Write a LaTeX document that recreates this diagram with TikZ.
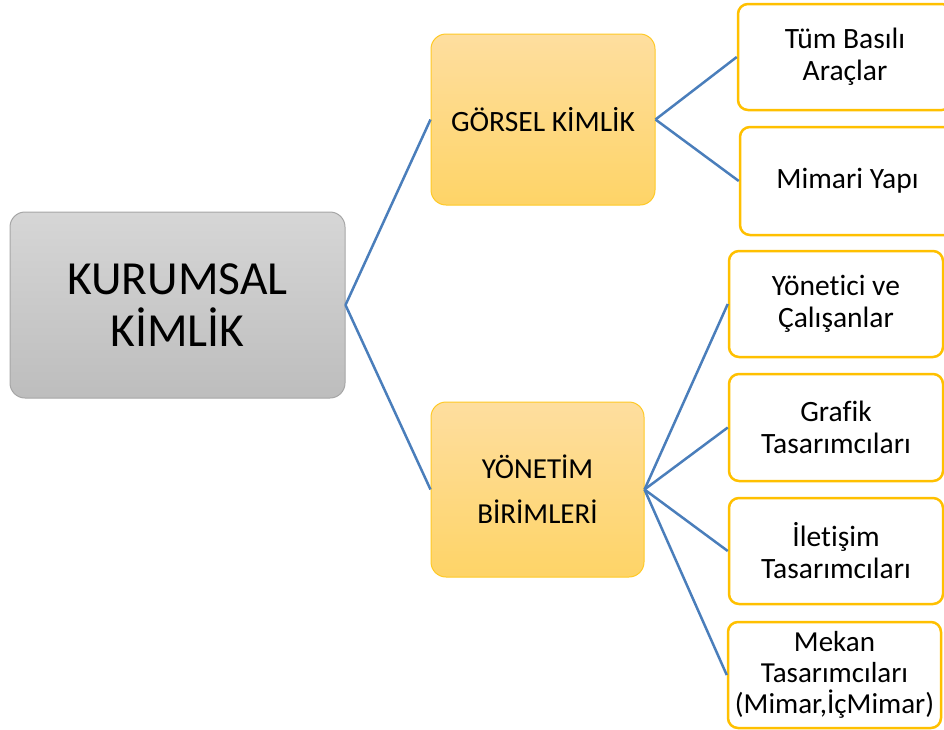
\documentclass[tikz,border=0pt]{standalone}
\usepackage{fontspec}
\setmainfont[Ligatures=NoCommon]{Carlito}
\definecolor{conn}{HTML}{4A7EBB}
\definecolor{gold}{HTML}{FFC000}
\definecolor{goldtop}{HTML}{FEDE9F}
\definecolor{goldbot}{HTML}{FED467}
\definecolor{graytop}{HTML}{D6D6D6}
\definecolor{graybot}{HTML}{BDBDBD}
\definecolor{grayline}{HTML}{A6A6A6}
\begin{document}
\begin{tikzpicture}[x=1pt,y=-1pt,
  rootbox/.style={draw=grayline,line width=1pt,rounded corners=15pt,top color=graytop,bottom color=graybot,
    inner sep=0pt,align=center,font=\fontsize{47.5}{52}\selectfont},
  midbox/.style={draw=gold!85!white,line width=1pt,rounded corners=15pt,top color=goldtop,bottom color=goldbot,
    inner sep=0pt,align=center},
  leafbox/.style={draw=gold,line width=2.5pt,rounded corners=10pt,fill=white,
    inner sep=0pt,align=center,font=\fontsize{29.5}{32}\selectfont},
  link/.style={draw=conn,line width=2.5pt}]
\useasboundingbox (0,0) rectangle (944,729);
\node[rootbox,minimum width=335pt,minimum height=186pt] (root) at (177.5,305) {\raisebox{-2pt}{KURUMSAL}\\\raisebox{-2pt}{KİMLİK}};
\node[midbox,minimum width=224pt,minimum height=171pt,font=\fontsize{29.5}{32}\selectfont] (gorsel) at (543,119.5) {GÖRSEL KİMLİK};
\node[midbox,minimum width=213pt,minimum height=175pt,font=\fontsize{29}{45}\selectfont] (yonetim) at (537.5,489.5) {YÖNETİM\\BİRİMLERİ};
\node[leafbox,minimum width=214pt,minimum height=106pt] (tum) at (845,57) {Tüm Basılı\\Araçlar};
\node[leafbox,minimum width=215pt,minimum height=108pt] (mimari) at (847.5,181) {Mimari Yapı};
\node[leafbox,minimum width=214pt,minimum height=106pt] (yonetici) at (836,304) {Yönetici ve\\Çalışanlar};
\node[leafbox,minimum width=214pt,minimum height=107pt] (grafik) at (836,427.5) {Grafik\\Tasarımcıları};
\node[leafbox,minimum width=214pt,minimum height=106pt] (iletisim) at (836,551) {İletişim\\Tasarımcıları};
\node[leafbox,minimum width=213pt,minimum height=106pt,font=\fontsize{29}{31}\selectfont] (mekan) at (834.5,675) {Mekan\\Tasarımcıları\\(Mimar,İçMimar)};
\draw[link] (root.east) -- (gorsel.west);
\draw[link] (root.east) -- (yonetim.west);
\draw[link] (gorsel.east) -- (tum.west);
\draw[link] (gorsel.east) -- (mimari.west);
\draw[link] (yonetim.east) -- (yonetici.west);
\draw[link] (yonetim.east) -- (grafik.west);
\draw[link] (yonetim.east) -- (iletisim.west);
\draw[link] (yonetim.east) -- (mekan.west);
\end{tikzpicture}
\end{document}
